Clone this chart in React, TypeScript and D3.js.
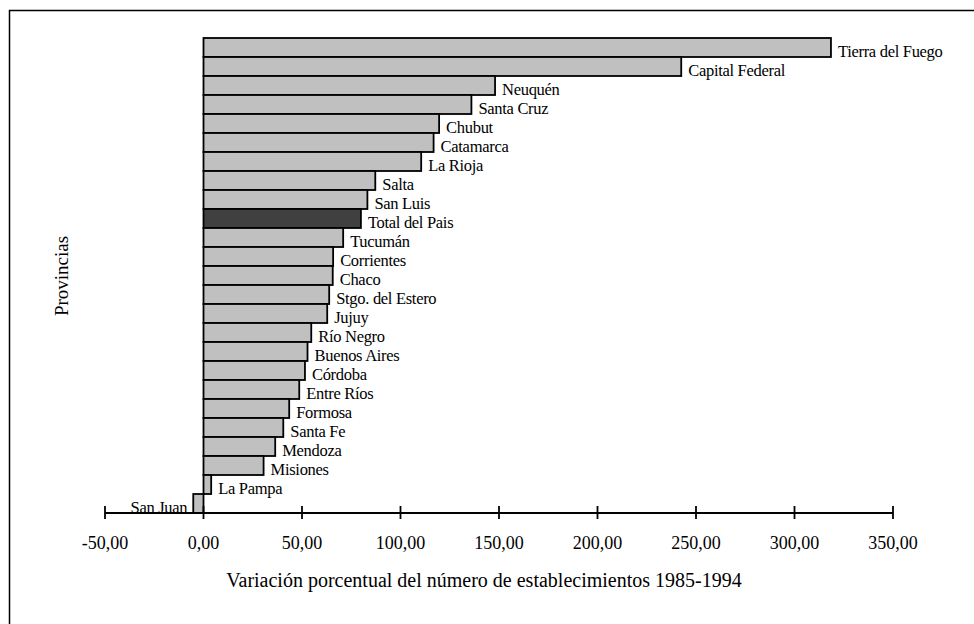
import React from "react";
import * as d3 from "d3";

const provinces = [
  "Tierra del Fuego", "Capital Federal", "Neuquén", "Santa Cruz", "Chubut",
  "Catamarca", "La Rioja", "Salta", "San Luis", "Total del Pais",
  "Tucumán", "Corrientes", "Chaco", "Stgo. del Estero", "Jujuy",
  "Río Negro", "Buenos Aires", "Córdoba", "Entre Ríos", "Formosa",
  "Santa Fe", "Mendoza", "Misiones", "La Pampa", "San Juan",
];
const values = [
  318.5, 242.5, 148.0, 136.0, 119.6,
  116.8, 110.5, 87.2, 83.2, 79.9,
  70.9, 65.8, 65.6, 63.8, 62.8,
  54.7, 52.8, 51.5, 48.6, 43.5,
  40.5, 36.4, 30.5, 3.9, -5.2,
];
const tickValues = [-50, 0, 50, 100, 150, 200, 250, 300, 350];
const highlight = "Total del Pais";

export default function App() {
  const x = d3.scaleLinear().domain([-50, 350]).range([105, 893]);
  const y = d3.scaleBand<string>().domain(provinces).range([38, 513]).padding(0);
  const axisY = 513;
  const fontStyle = { fontFamily: '"Liberation Serif"' };
  const fmt = (v: number) => v.toFixed(2).replace(".", ",");

  return (
    <svg
      width={974}
      height={624}
      style={{ position: "absolute", left: 0, top: 0, display: "block", background: "#fff" }}
    >
      <rect x={9.5} y={10.5} width={1000} height={700} fill="none" stroke="#000" strokeWidth={1.5} />
      {provinces.map((p, i) => {
        const v = values[i];
        const x0 = x(Math.min(0, v));
        const x1 = x(Math.max(0, v));
        const yy = y(p)!;
        const bw = y.bandwidth();
        const neg = v < 0;
        return (
          <g key={p}>
            <rect
              x={x0}
              y={yy}
              width={x1 - x0}
              height={bw}
              fill={p === highlight ? "#404040" : "#c0c0c0"}
              stroke="#000"
              strokeWidth={1.8}
            />
            <text
              x={neg ? x0 - 6 : x1 + 7}
              y={yy + bw / 2 + 4}
              dominantBaseline="central"
              textAnchor={neg ? "end" : "start"}
              fontSize={16.5}
              fill="#000"
              style={{ ...fontStyle, letterSpacing: "-0.3px" }}
            >
              {p}
            </text>
          </g>
        );
      })}
      <line x1={x(-50)} x2={x(350)} y1={axisY} y2={axisY} stroke="#000" strokeWidth={1.8} />
      {tickValues.map((t) => (
        <g key={t}>
          <line x1={x(t)} x2={x(t)} y1={axisY - 7} y2={axisY + 6} stroke="#000" strokeWidth={1.8} />
          <text x={x(t)} y={549} textAnchor="middle" fontSize={18} fill="#000" style={fontStyle}>
            {fmt(t)}
          </text>
        </g>
      ))}
      <text x={484} y={587} textAnchor="middle" fontSize={20} fill="#000" style={fontStyle}>
        Variación porcentual del número de establecimientos 1985-1994
      </text>
      <text
        transform="translate(68,276) rotate(-90)"
        textAnchor="middle"
        fontSize={19}
        fill="#000"
        style={fontStyle}
      >
        Provincias
      </text>
    </svg>
  );
}
